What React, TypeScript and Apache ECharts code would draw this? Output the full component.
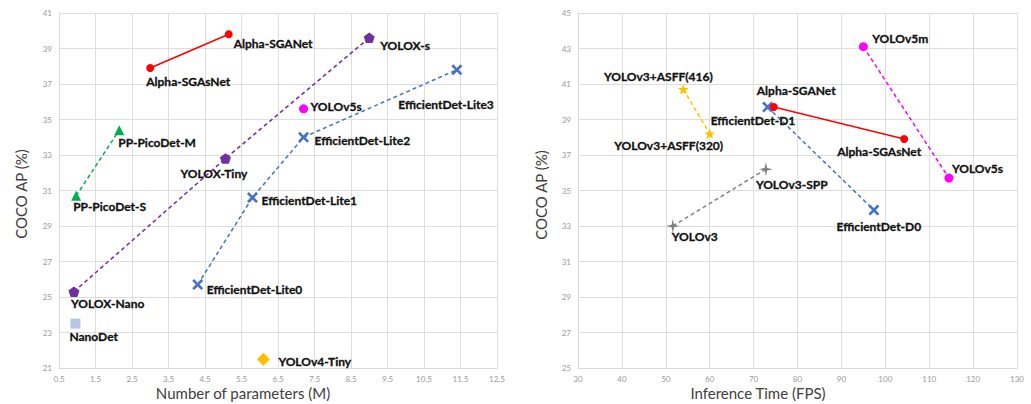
import { useEffect, useRef } from 'react';
import * as echarts from 'echarts';

// ---------- Left chart: Number of parameters (M) vs COCO AP (%) ----------
const alphaL_names = ['Alpha-SGAsNet', 'Alpha-SGANet'];
const alphaL_x = [3.0, 5.15];
const alphaL_y = [37.9, 39.8];

const pico_names = ['PP-PicoDet-S', 'PP-PicoDet-M'];
const pico_x = [0.97, 2.15];
const pico_y = [30.7, 34.4];

const yolox_names = ['YOLOX-Nano', 'YOLOX-Tiny', 'YOLOX-s'];
const yolox_x = [0.91, 5.06, 9.0];
const yolox_y = [25.3, 32.8, 39.6];

const lite_names = ['EfficientDet-Lite0', 'EfficientDet-Lite1', 'EfficientDet-Lite2', 'EfficientDet-Lite3'];
const lite_x = [4.3, 5.8, 7.2, 11.4];
const lite_y = [25.7, 30.6, 34.0, 37.8];

const v5L_names = ['YOLOv5s'];
const v5L_x = [7.2];
const v5L_y = [35.6];

const nano_names = ['NanoDet'];
const nano_x = [0.95];
const nano_y = [23.5];

const v4t_names = ['YOLOv4-Tiny'];
const v4t_x = [6.1];
const v4t_y = [21.5];

const leftXTicks = { min: 0.5, max: 12.5, step: 1 };
const leftYTicks = { min: 21, max: 41, step: 2 };

// ---------- Right chart: Inference Time (FPS) vs COCO AP (%) ----------
const asff_names = ['YOLOv3+ASFF(416)', 'YOLOv3+ASFF(320)'];
const asff_x = [54, 60];
const asff_y = [40.7, 38.2];

const alphaR_names = ['Alpha-SGANet', 'Alpha-SGAsNet'];
const alphaR_x = [74.6, 104.3];
const alphaR_y = [39.7, 37.9];

const v5R_names = ['YOLOv5m', 'YOLOv5s'];
const v5R_x = [95, 114.5];
const v5R_y = [43.1, 35.7];

const effD_names = ['EfficientDet-D1', 'EfficientDet-D0'];
const effD_x = [73.2, 97.4];
const effD_y = [39.7, 33.9];

const v3_names = ['YOLOv3', 'YOLOv3-SPP'];
const v3_x = [51.6, 72.8];
const v3_y = [33.0, 36.2];

const rightXTicks = { min: 30, max: 130, step: 10 };
const rightYTicks = { min: 25, max: 45, step: 2 };

// ---------- label placement (pixel offsets from marker centre) ----------
type LP = [number, number, 'left' | 'center' | 'right'];
const leftLabelPos: Record<string, LP> = {
  'Alpha-SGAsNet': [-4, 13, 'left'],
  'Alpha-SGANet': [5, 9, 'left'],
  'PP-PicoDet-M': [-1, 12, 'left'],
  'PP-PicoDet-S': [-3, 11, 'left'],
  'YOLOX-Tiny': [-45, 15, 'left'],
  'YOLOX-Nano': [-3, 12, 'left'],
  'YOLOX-s': [11, 7, 'left'],
  'NanoDet': [-6, 13, 'left'],
  'YOLOv4-Tiny': [15, 2, 'left'],
  'EfficientDet-Lite0': [9, 5, 'left'],
  'EfficientDet-Lite1': [9, 3, 'left'],
  'EfficientDet-Lite2': [11, 3, 'left'],
  'EfficientDet-Lite3': [37, 35, 'right'],
  'YOLOv5s': [7, -2, 'left'],
};
const rightLabelPos: Record<string, LP> = {
  'YOLOv3+ASFF(416)': [-25, -13, 'center'],
  'YOLOv3+ASFF(320)': [-41, 12, 'center'],
  'EfficientDet-D1': [-57, 13, 'left'],
  'EfficientDet-D0': [5, 16, 'center'],
  'Alpha-SGANet': [-17, -17, 'left'],
  'Alpha-SGAsNet': [-25, 12, 'center'],
  'YOLOv5m': [9, -8, 'left'],
  'YOLOv5s': [3, -10, 'left'],
  'YOLOv3': [-1, 10, 'left'],
  'YOLOv3-SPP': [-10, 15, 'left'],
};

const PENTAGON = 'path://M5,0L9.755,3.455L7.939,9.045L2.061,9.045L0.245,3.455Z';
const STAR5 = 'path://M5,0L6.176,3.382L9.755,3.455L6.902,5.618L7.939,9.045L5,7L2.061,9.045L3.098,5.618L0.245,3.455L3.824,3.382Z';
const STAR4 = 'path://M5,0L5.9,4.1L10,5L5.9,5.9L5,10L4.1,5.9L0,5L4.1,4.1Z';
const CROSS = 'path://M0,1.7L1.7,0L5,3.3L8.3,0L10,1.7L6.7,5L10,8.3L8.3,10L5,6.7L1.7,10L0,8.3L3.3,5Z';

const FONT = 'Lato, "Open Sans", sans-serif';

// ticks are counted from min, so shift axes whose min is not a multiple of the step
function shiftOf(t: { min: number; step: number }) {
  const m = Math.floor(t.min / t.step) * t.step;
  return t.min - m;
}

function makeSeries(o: {
  names: string[]; xs: number[]; ys: number[]; grid: 0 | 1;
  color: string; symbol: string; size: number; line: 'none' | 'solid' | 'dashed';
  pos: Record<string, LP>; sx: number; sy: number;
}) {
  const data = o.names.map((n, i) => {
    const p = o.pos[n] || [8, 0, 'left'];
    return {
      name: n,
      value: [o.xs[i] - o.sx, o.ys[i] - o.sy],
      label: {
        show: true,
        position: [o.size / 2 + p[0], o.size / 2 + p[1]],
        align: p[2],
        verticalAlign: 'middle',
        formatter: n,
        color: '#111111',
        fontSize: 12,
        fontWeight: 'bold',
        fontFamily: FONT,
        textBorderColor: '#111111',
        textBorderWidth: 0.3,
      },
    };
  });
  return {
    type: 'line',
    xAxisIndex: o.grid,
    yAxisIndex: o.grid,
    data,
    symbol: o.symbol,
    symbolSize: o.size,
    symbolKeepAspect: true,
    showSymbol: true,
    itemStyle: { color: o.color, opacity: 1 },
    lineStyle: {
      color: o.color,
      width: o.line === 'none' ? 0 : 1.5,
      type: o.line === 'dashed' ? [4, 3] : 'solid',
    },
    z: 3,
  };
}

function axisCommon(t: { min: number; max: number; step: number }, sh: number, fmtDigits: number) {
  return {
    type: 'value',
    min: t.min - sh,
    max: t.max - sh,
    interval: t.step,
    axisLine: { show: true, lineStyle: { color: '#d9d9d9', width: 1 } },
    axisTick: { show: false },
    splitLine: { show: true, lineStyle: { color: '#dedede', width: 1 } },
    axisLabel: {
      color: '#9a9a9a',
      fontSize: 8,
      fontFamily: FONT,
      margin: 7,
      formatter: (v: number) => (v + sh).toFixed(fmtDigits),
    },
  };
}

export default function App() {
  const ref = useRef<HTMLDivElement>(null);
  useEffect(() => {
    if (!ref.current) return;
    const chart = echarts.init(ref.current, undefined, { renderer: 'svg' });
    const lsx = shiftOf(leftXTicks), lsy = shiftOf(leftYTicks);
    const rsx = shiftOf(rightXTicks), rsy = shiftOf(rightYTicks);

    const lx = { ...axisCommon(leftXTicks, lsx, 1), gridIndex: 0 };
    const ly = { ...axisCommon(leftYTicks, lsy, 0), gridIndex: 0 };
    const rx = { ...axisCommon(rightXTicks, rsx, 0), gridIndex: 1 };
    const ry = { ...axisCommon(rightYTicks, rsy, 0), gridIndex: 1 };

    const L = { grid: 0 as const, pos: leftLabelPos, sx: lsx, sy: lsy };
    const R = { grid: 1 as const, pos: rightLabelPos, sx: rsx, sy: rsy };

    const series = [
      makeSeries({ ...L, names: alphaL_names, xs: alphaL_x, ys: alphaL_y, color: '#ff0000', symbol: 'circle', size: 8, line: 'solid' }),
      makeSeries({ ...L, names: pico_names, xs: pico_x, ys: pico_y, color: '#00b050', symbol: 'triangle', size: 10, line: 'dashed' }),
      makeSeries({ ...L, names: yolox_names, xs: yolox_x, ys: yolox_y, color: '#7030a0', symbol: PENTAGON, size: 11, line: 'dashed' }),
      makeSeries({ ...L, names: lite_names, xs: lite_x, ys: lite_y, color: '#4472c4', symbol: CROSS, size: 11, line: 'dashed' }),
      makeSeries({ ...L, names: v5L_names, xs: v5L_x, ys: v5L_y, color: '#ff00ff', symbol: 'circle', size: 9, line: 'none' }),
      makeSeries({ ...L, names: nano_names, xs: nano_x, ys: nano_y, color: '#b4c7e7', symbol: 'rect', size: 10, line: 'none' }),
      makeSeries({ ...L, names: v4t_names, xs: v4t_x, ys: v4t_y, color: '#ffc000', symbol: 'diamond', size: 13, line: 'none' }),
      makeSeries({ ...R, names: asff_names, xs: asff_x, ys: asff_y, color: '#ffc000', symbol: STAR5, size: 11, line: 'dashed' }),
      makeSeries({ ...R, names: effD_names, xs: effD_x, ys: effD_y, color: '#4472c4', symbol: CROSS, size: 11, line: 'dashed' }),
      makeSeries({ ...R, names: alphaR_names, xs: alphaR_x, ys: alphaR_y, color: '#ff0000', symbol: 'circle', size: 8, line: 'solid' }),
      makeSeries({ ...R, names: v5R_names, xs: v5R_x, ys: v5R_y, color: '#ff00ff', symbol: 'circle', size: 9, line: 'dashed' }),
      makeSeries({ ...R, names: v3_names, xs: v3_x, ys: v3_y, color: '#808080', symbol: STAR4, size: 14, line: 'dashed' }),
    ];

    const titleStyle = (text: string) => ({
      text, fontSize: 15, fontFamily: FONT, fill: '#404040', align: 'center', verticalAlign: 'middle',
    });

    chart.setOption({
      animation: false,
      backgroundColor: '#ffffff',
      grid: [
        { left: 59, top: 13, width: 438, height: 355 },
        { left: 578, top: 13, width: 439, height: 355 },
      ],
      xAxis: [lx, rx],
      yAxis: [ly, ry],
      series,
      graphic: [
        { type: 'text', x: 243, y: 393, style: titleStyle('Number of parameters (M)') },
        { type: 'text', x: 758, y: 393, style: titleStyle('Inference Time (FPS)') },
        { type: 'text', x: 21, y: 194, rotation: Math.PI / 2, style: titleStyle('COCO AP (%)') },
        { type: 'text', x: 541, y: 195, rotation: Math.PI / 2, style: titleStyle('COCO AP (%)') },
      ],
    } as any);
    return () => chart.dispose();
  }, []);
  return (
    <div
      ref={ref}
      style={{ position: 'fixed', left: 0, top: 0, width: 1031, height: 404, background: '#fff' }}
    />
  );
}
